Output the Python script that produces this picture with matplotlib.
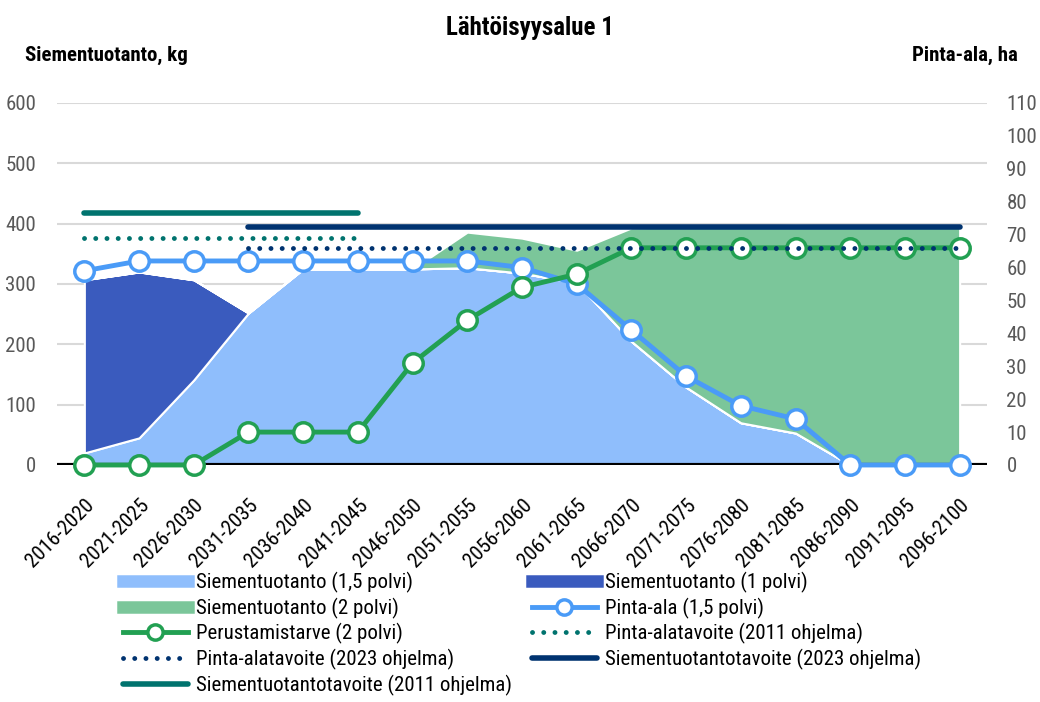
import numpy as np
import matplotlib.pyplot as plt
from matplotlib.lines import Line2D

plt.rcParams['font.family'] = ['Roboto Condensed', 'Lato', 'DejaVu Sans']

# Kaudet
periods = ['2016-2020', '2021-2025', '2026-2030', '2031-2035', '2036-2040',
           '2041-2045', '2046-2050', '2051-2055', '2056-2060', '2061-2065',
           '2066-2070', '2071-2075', '2076-2080', '2081-2085', '2086-2090',
           '2091-2095', '2096-2100']

# Siementuotanto, kg (pinottu)
seed_15 = [20, 45, 141, 252, 325, 325, 325, 327, 318, 302, 205, 129, 70, 53, 0, 0, 0]
seed_1 = [287, 275, 166, 0, 0, 0, 0, 0, 0, 0, 0, 0, 0, 0, 0, 0, 0]
seed_2 = [0, 0, 0, 0, 0, 0, 0, 59, 58, 54, 188, 266, 325, 345, 395, 395, 395]

# Pinta-ala, ha
area_15 = [59, 62, 62, 62, 62, 62, 62, 62, 60, 55, 41, 27, 18, 14, 0, 0, 0]
need_2 = [0, 0, 0, 10, 10, 10, 31, 44, 54, 58, 66, 66, 66, 66, 66, 66, 66]

# Tavoitteet
area_goal_2011 = 69      # ha, kaudet 0-5
area_goal_2023 = 66      # ha, kaudet 3-16
seed_goal_2011 = 418     # kg, kaudet 0-5
seed_goal_2023 = 395     # kg, kaudet 3-16

c_lb = '#8fbefc'
c_db = '#3a5bbe'
c_gr = '#7bc69a'
c_line = '#4a9bf7'
c_gline = '#22a052'
c_teal = '#00736e'
c_navy = '#003370'
c_tick = '#595959'

x = np.arange(len(periods))

fig = plt.figure(figsize=(10.4, 7.02), dpi=100)
ax = fig.add_axes([57 / 1040, 1 - 465 / 702, 930 / 1040, 362 / 702])
ax2 = ax.twinx()

ax.stackplot(x, seed_15, seed_1, seed_2, colors=[c_lb, c_db, c_gr],
             edgecolor='white', linewidth=1.5, zorder=2)

ax.set_xlim(-0.5, len(periods) - 0.5)
ax.set_ylim(0, 600)
ax.set_yticks(range(0, 601, 100))
ax2.set_ylim(0, 110)
ax2.set_yticks(range(0, 111, 10))
ax.grid(axis='y', color='#d9d9d9', linewidth=1.5, zorder=0)
ax.set_axisbelow(True)
ax.axhline(0, color='black', linewidth=3, zorder=3)

for a in (ax, ax2):
    for s in a.spines.values():
        s.set_visible(False)
    a.tick_params(length=0, labelsize=15, colors=c_tick)
ax.tick_params(axis='y', pad=15)
ax2.tick_params(axis='y', pad=14)
ax.set_xticks(x)
ax.set_xticklabels(periods, rotation=45, ha='right', rotation_mode='anchor',
                   color='black', fontsize=15)
ax.tick_params(axis='x', pad=22)

# seed targets (left axis)
ax.plot(x[0:6], [seed_goal_2011] * 6, color=c_teal, lw=4,
        solid_capstyle='round', zorder=6, clip_on=False)
ax.plot(x[3:], [seed_goal_2023] * len(x[3:]), color=c_navy, lw=4,
        solid_capstyle='round', zorder=6, clip_on=False)

# area lines (right axis)
ax2.set_zorder(ax.get_zorder() + 1)
ax2.patch.set_visible(False)
mk = dict(marker='o', markersize=14, markerfacecolor='white', markeredgewidth=2.5)
ax2.plot(x, area_15, color=c_line, lw=3.5, markeredgecolor=c_line, zorder=4,
         clip_on=False, **mk)
ax2.plot(x, need_2, color=c_gline, lw=3.5, markeredgecolor=c_gline, zorder=5,
         clip_on=False, **mk)
ax2.plot(x[0:6], [area_goal_2011] * 6, color=c_teal, lw=3.5,
         linestyle=(0, (0.01, 2.3)), dash_capstyle='round', zorder=6)
ax2.plot(x[3:], [area_goal_2023] * len(x[3:]), color=c_navy, lw=3.5,
         linestyle=(0, (0.01, 2.3)), dash_capstyle='round', zorder=6)

fig.text(530 / 1040, 1 - 28 / 702, 'Lähtöisyysalue 1', ha='center', va='center',
         fontsize=18, fontweight='bold')
fig.text(25 / 1040, 1 - 55 / 702, 'Siementuotanto, kg', ha='left', va='center',
         fontsize=15, fontweight='bold')
fig.text(1018 / 1040, 1 - 55 / 702, 'Pinta-ala, ha', ha='right', va='center',
         fontsize=15, fontweight='bold')

h_lb = Line2D([], [], color=c_lb, lw=9)
h_db = Line2D([], [], color=c_db, lw=9)
h_gr = Line2D([], [], color=c_gr, lw=9)
h_pa = Line2D([], [], color=c_line, lw=3.5, markeredgecolor=c_line,
              marker='o', markersize=11, markerfacecolor='white', markeredgewidth=2.5)
h_pt = Line2D([], [], color=c_gline, lw=3.5, markeredgecolor=c_gline,
              marker='o', markersize=11, markerfacecolor='white', markeredgewidth=2.5)
h_pa11 = Line2D([], [], color=c_teal, lw=3.5, linestyle=(0, (0.01, 2.3)),
                dash_capstyle='round')
h_pa23 = Line2D([], [], color=c_navy, lw=3.5, linestyle=(0, (0.01, 2.3)),
                dash_capstyle='round')
h_st23 = Line2D([], [], color=c_navy, lw=4, solid_capstyle='round')
h_st11 = Line2D([], [], color=c_teal, lw=4, solid_capstyle='round')

col1 = [(h_lb, 'Siementuotanto (1,5 polvi)'), (h_gr, 'Siementuotanto (2 polvi)'),
        (h_pt, 'Perustamistarve (2 polvi)'), (h_pa23, 'Pinta-alatavoite (2023 ohjelma)'),
        (h_st11, 'Siementuotantotavoite (2011 ohjelma)')]
col2 = [(h_db, 'Siementuotanto (1 polvi)'), (h_pa, 'Pinta-ala (1,5 polvi)'),
        (h_pa11, 'Pinta-alatavoite (2011 ohjelma)'),
        (h_st23, 'Siementuotantotavoite (2023 ohjelma)')]
leg_kw = dict(loc='upper left', frameon=False, fontsize=15, handlelength=3.1,
              handletextpad=0.4, labelspacing=0.22, borderaxespad=0, borderpad=0)
for col, x0 in ((col1, 123), (col2, 532)):
    leg = fig.legend([h for h, _ in col], [t for _, t in col],
                     bbox_to_anchor=(x0 / 1040, 1 - 572 / 702), **leg_kw)

fig.savefig('out.png', dpi=100)
